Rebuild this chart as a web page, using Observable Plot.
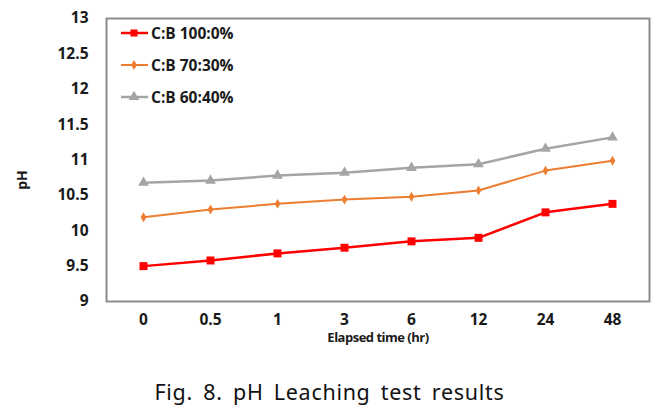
<!DOCTYPE html>
<html><head><meta charset="utf-8">
<script src="https://cdn.jsdelivr.net/npm/d3@7"></script>
<script src="https://cdn.jsdelivr.net/npm/@observablehq/plot@0.6"></script>
<style>
body{margin:0;background:#fff;}
#wrap{position:relative;width:669px;}
#legend{position:absolute;left:118px;top:17px;font-family:"Open Sans",sans-serif;font-weight:bold;font-size:15.5px;color:#1a1a1a;}
#legend .row{display:flex;align-items:center;height:32px;}
#caption{width:659px;text-align:center;font-family:"Noto Sans",sans-serif;font-size:21.5px;line-height:28px;color:#111;margin-top:18px;letter-spacing:0.7px;word-spacing:4px;}
</style></head>
<body>
<div id="wrap"><div id="chart"></div><div id="legend"></div></div>
<div id="caption">Fig. 8. pH Leaching test results</div>
<script>
const times = ["0","0.5","1","3","6","12","24","48"];
const seriesNames = ["C:B 100:0%","C:B 70:30%","C:B 60:40%"];
const cb100 = [9.50,9.58,9.68,9.76,9.85,9.90,10.26,10.38];
const cb70 = [10.19,10.30,10.38,10.44,10.48,10.57,10.85,10.99];
const cb60 = [10.68,10.71,10.78,10.82,10.89,10.94,11.16,11.32];
const yTicks = [9,9.5,10,10.5,11,11.5,12,12.5,13];
const colors = ["#ff0000","#ed7d31","#a5a5a5"];
const symbols = ["square","diamond","triangle"];
const sizes = [4.5,3,4];
const widths = [2.5,2,2.5];

const all = [cb100,cb70,cb60];
const data = [];
all.forEach((vals,si)=>vals.forEach((v,i)=>data.push({t:times[i],ph:v,s:seriesNames[si]})));

const marks = [Plot.frame({stroke:"#8c8c8c",strokeWidth:2})];
seriesNames.forEach((name,si)=>{
  const d = data.filter(r=>r.s===name);
  marks.push(Plot.line(d,{x:"t",y:"ph",stroke:colors[si],strokeWidth:widths[si]}));
  marks.push(Plot.dot(d,{x:"t",y:"ph",fill:colors[si],symbol:()=>symbols[si],r:sizes[si]}));
});

const chart = Plot.plot({
  width:669,height:360,
  marginLeft:106,marginRight:20,marginTop:18,marginBottom:59,
  style:{fontFamily:"'Open Sans',sans-serif",fontWeight:"bold",fontSize:"15.5px",color:"#1a1a1a"},
  x:{type:"point",domain:times,padding:0.5,tickSize:0,tickPadding:12,label:null},
  y:{domain:[9,13],ticks:yTicks,tickSize:0,tickPadding:18,label:null,tickFormat:d=>String(d)},
  marks:[
    ...marks,
    Plot.axisX({tickSize:0,tickPadding:12,label:null,fontSize:15.5}),
    Plot.axisY({ticks:yTicks,tickSize:0,tickPadding:18,label:null,tickFormat:d=>String(d),fontSize:15.5})
  ]
});
document.getElementById("chart").appendChild(chart);

const svg = d3.select(chart);
svg.append("text").attr("transform","translate(27,180) rotate(-90)").attr("text-anchor","middle")
  .attr("font-size",14).attr("font-weight","bold").attr("fill","#1a1a1a").text("pH");
svg.append("text").attr("x",378).attr("y",342).attr("text-anchor","middle")
  .attr("font-size",13).attr("font-weight","bold").attr("fill","#1a1a1a").attr("letter-spacing","-0.5").text("Elapsed time (hr)");

const leg = d3.select("#legend");
seriesNames.forEach((name,si)=>{
  const row = leg.append("div").attr("class","row");
  const s = row.append("svg").attr("width",33).attr("height",14);
  s.append("line").attr("x1",3).attr("x2",30).attr("y1",7).attr("y2",7).attr("stroke",colors[si]).attr("stroke-width",widths[si]);
  s.append("path").attr("transform","translate(16,7)").attr("d",d3.symbol(si===0?d3.symbolSquare:si===1?d3.symbolDiamond:d3.symbolTriangle, si===1?30:50)()).attr("fill",colors[si]);
  row.append("span").text(name);
});
</script>
</body></html>
